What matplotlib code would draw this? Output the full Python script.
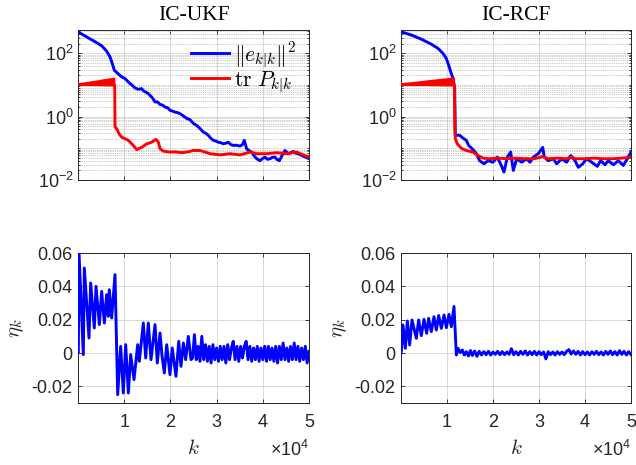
import numpy as np
import matplotlib
matplotlib.use('Agg')
import matplotlib.pyplot as plt
from matplotlib.ticker import FixedLocator, FixedFormatter, NullFormatter

plt.rcParams['font.family'] = ['Liberation Sans', 'DejaVu Sans']
plt.rcParams['mathtext.fontset'] = 'custom'
plt.rcParams['mathtext.rm'] = 'Liberation Sans'
plt.rcParams['mathtext.it'] = 'Liberation Sans:italic'
plt.rcParams['mathtext.bf'] = 'Liberation Sans:bold'

# ---------------- data ----------------
titles = ['IC-UKF', 'IC-RCF']
legend_labels = [r'$\|e_{k|k}\|^2$', r'$\mathrm{tr}\ P_{k|k}$']
x_ticks = [10000, 20000, 30000, 40000, 50000]
x_ticklabels = ['1', '2', '3', '4', '5']
x_exponent = '4'
log_ticks = [1e-2, 1e0, 1e2]
log_ticklabels = [r'$\mathrm{10^{-2}}$', r'$\mathrm{10^{0}}$', r'$\mathrm{10^{2}}$']
eta_ticks = [-0.02, 0.0, 0.02, 0.04, 0.06]
eta_ticklabels = ['-0.02', '0', '0.02', '0.04', '0.06']

# IC-UKF : squared error (blue)
ukf_err_k = [0, 2230, 3680, 5130, 6200, 6930, 7420, 7860, 8590, 9460, 10170, 10700, 11260,
             11800, 12340, 13050, 13780, 14100, 14500, 15000, 15580, 16100, 16670, 17200,
             17750, 18300, 18830, 19400, 19910, 20400, 21000, 21500, 22080, 22600, 23160,
             23700, 24240, 25000, 25690, 26400, 27120, 27600, 28200, 28700, 29290, 29800,
             30370, 30900, 31450, 32000, 32530, 33100, 33620, 34300, 35060, 35600, 36000,
             36510, 37000, 37590, 38100, 38680, 39390, 39900, 40480, 41000, 41560, 42100,
             42640, 43100, 43580, 44200, 44810, 45520, 46000, 46600, 47100, 47690, 48200,
             48770, 49400, 50000]
ukf_err_v = [468, 302, 229, 170, 115, 75.9, 46.8, 28.8, 22.9, 17.8, 15.8, 13.2, 11.0,
             9.5, 7.94, 7.24, 7.59, 6.6, 6.03, 5.6, 4.68, 3.9, 2.88, 2.9, 2.40, 2.3, 2.00,
             1.9, 1.58, 1.5, 1.38, 1.34, 1.23, 1.1, 0.955, 0.85, 0.80, 0.60, 0.525, 0.42,
             0.324, 0.30, 0.257, 0.21, 0.178, 0.17, 0.155, 0.15, 0.138, 0.145, 0.155, 0.13,
             0.123, 0.125, 0.117, 0.13, 0.178, 0.0955, 0.085, 0.0759, 0.058, 0.0468, 0.0407,
             0.047, 0.0525, 0.045, 0.0468, 0.052, 0.0525, 0.044, 0.0407, 0.06, 0.0851, 0.0676,
             0.072, 0.0794, 0.070, 0.0676, 0.062, 0.0562, 0.052, 0.0468]
# IC-UKF : trace of covariance (red)
ukf_band_k = [0, 2000, 4000, 6000, 7950]
ukf_band_hi = [11.7, 12.9, 14.3, 16.0, 17.8]
ukf_band_lo = [9.8, 9.7, 9.5, 9.4, 9.3]
ukf_tr_k = [0, 7950, 8010, 8370, 8870, 9460, 10890, 11970, 12700, 13780, 14870, 15950,
            16880, 17390, 17750, 18470, 19910, 20990, 22440, 23880, 24960, 26410, 28570,
            30740, 32900, 35060, 37230, 38680, 40840, 43000, 45170, 47330, 48770, 50000]
ukf_tr_v = [10.2, 10.0, 0.468, 0.417, 0.288, 0.224, 0.178, 0.123, 0.0912, 0.107, 0.138, 0.155,
            0.191, 0.155, 0.0977, 0.0813, 0.0759, 0.0776, 0.0724, 0.0776, 0.0851, 0.0851, 0.0676,
            0.0617, 0.0676, 0.0617, 0.0759, 0.0676, 0.0676, 0.0724, 0.0676, 0.0759, 0.0617, 0.0525]

# IC-RCF : squared error (blue)
rcf_err_k = [0, 2240, 4410, 6590, 8040, 9130, 9850, 10360, 10800, 11300, 11670, 11810,
             12760, 13480, 14200, 14710, 15650, 16370, 17100, 18040, 18910, 20000, 20930,
             21800, 22390, 23110, 23840, 24410, 25150, 26240, 27330, 28040, 28760, 29850,
             30800, 31160, 32020, 33110, 33850, 34930, 36020, 36880, 37830, 38550, 39490,
             40360, 41450, 42680, 43410, 44350, 45070, 46160, 47250, 48330, 49200, 50000]
rcf_err_v = [468, 372, 275, 191, 141, 97.7, 67.6, 41.7, 25.7, 15.8, 8.0, 0.257,
             0.257, 0.209, 0.178, 0.123, 0.0912, 0.0676, 0.0407, 0.0324, 0.0407, 0.0363, 0.0525,
             0.0288, 0.0178, 0.0525, 0.0759, 0.0200, 0.0468, 0.0363, 0.0468, 0.0363, 0.0525, 0.0676,
             0.107, 0.0525, 0.0407, 0.0468, 0.0324, 0.0468, 0.0363, 0.0589, 0.0407, 0.0251, 0.0324,
             0.0468, 0.0363, 0.0269, 0.0407, 0.0302, 0.0407, 0.0302, 0.0407, 0.0288, 0.0468, 0.0759]
# IC-RCF : trace of covariance (red)
rcf_band_k = [0, 3000, 6000, 9000, 11600]
rcf_band_hi = [11.7, 13.0, 14.6, 16.2, 17.8]
rcf_band_lo = [9.8, 9.7, 9.5, 9.4, 9.3]
rcf_tr_k = [0, 11600, 11700, 11810, 12250, 13120, 14200, 15650, 16740, 17830, 19000, 21000,
            23000, 25000, 27000, 29000, 30800, 32000, 34000, 36000, 36900, 38000, 40000,
            42000, 44000, 46000, 48000, 50000]
rcf_tr_v = [10.2, 10.0, 0.4, 0.200, 0.138, 0.100, 0.0851, 0.0759, 0.0589, 0.0490, 0.0468, 0.0490,
            0.0468, 0.0490, 0.0468, 0.0468, 0.0550, 0.0468, 0.0490, 0.0468, 0.0525, 0.0468, 0.0468,
            0.0490, 0.0468, 0.0468, 0.0490, 0.0525]

# IC-UKF : eta_k
ukf_eta_k = [0, 70, 220, 1150, 1370, 2380, 2740, 3530, 3900, 4620, 5120, 5700, 6200, 6550,
             6780, 7290, 8010, 8590, 9240, 9810, 10320, 10900, 11400, 12120, 12920, 13270,
             14140, 14650, 15220, 15800, 16670, 17170, 17750, 18200, 18690, 19200, 19910,
             20400, 21200, 21800, 22290, 22800, 23300, 23880, 24460,
             24800, 25200, 25600, 26000, 26400, 26800, 27200, 27600, 28000, 28400, 28800,
             29200, 29600, 30000, 30400, 30800, 31200, 31600, 32000, 32400, 32800, 33200,
             33600, 34000, 34400, 34800, 35200, 35600, 36000, 36400, 36800, 37200, 37600,
             38000, 38400, 38800, 39200, 39600, 40000, 40400, 40800, 41200, 41600, 42000,
             42400, 42800, 43200, 43600, 44000, 44400, 44800, 45200, 45600, 46000, 46400,
             46800, 47200, 47600, 48000, 48400, 48800, 49200, 49600, 50000]
ukf_eta_v = [0.0, 0.0, 0.060, -0.001, 0.051, 0.009, 0.042, 0.015, 0.040, 0.017, 0.037, 0.018,
             0.035, 0.022, 0.038, 0.021, 0.047, -0.025, 0.004, -0.024, 0.005, -0.024, -0.001,
             -0.016, 0.005, -0.005, 0.018, -0.003, 0.018, -0.004, 0.017, -0.006, 0.012, -0.002,
             -0.012, 0.005, -0.013, 0.003, -0.014, 0.007, -0.008, 0.006, -0.004, 0.010, -0.004,
             -0.003, 0.011, -0.004, 0.004, -0.005, 0.010, -0.004, 0.005, -0.005, 0.004, -0.006,
             0.005, -0.004, 0.003, -0.005, 0.004, -0.004, 0.004, -0.006, 0.005, -0.004, 0.003,
             0.007, -0.004, 0.004, -0.005, 0.004, -0.003, 0.004, 0.007, -0.004, 0.004, -0.005,
             0.003, -0.004, 0.004, -0.005, 0.003, -0.004, 0.004, -0.005, 0.004, -0.004, 0.003,
             -0.005, 0.004, -0.006, 0.004, -0.004, 0.006, -0.004, 0.003, -0.005, 0.004, -0.004,
             0.006, -0.004, 0.004, -0.005, 0.003, -0.004, 0.004, -0.006, 0.001]

# IC-RCF : eta_k
rcf_eta_k = [0, 70, 430, 940, 1380, 1880, 2390, 3330, 3840, 4420, 5000, 5580, 6010, 6590,
             7170, 7680, 8190, 8770, 9350, 9860, 10430, 10940, 11520, 12030, 12390, 12870,
             13330, 13770, 14200, 14650, 15100,
             15500, 16000, 16500, 17000, 17500, 18000, 18500, 19000, 19500, 20000, 20500,
             21000, 21500, 22000, 22500, 23000, 23500, 24000, 24500, 25000, 25500, 26000,
             26500, 27000, 27500, 28000, 28500, 29000, 29500, 30000, 30500, 31000, 31500,
             32000, 32500, 33000, 33500, 34000, 34500, 35000, 35500, 36000, 36500, 37000,
             37500, 38000, 38500, 39000, 39500, 40000, 40500, 41000, 41500, 42000, 42500,
             43000, 43500, 44000, 44500, 45000, 45500, 46000, 46500, 47000, 47500, 48000,
             48500, 49000, 49500, 50000]
rcf_eta_v = [0.0, 0.0008, 0.0168, 0.0028, 0.0192, 0.0048, 0.0198, 0.0088, 0.0198, 0.0104,
             0.0202, 0.0118, 0.0208, 0.0128, 0.0218, 0.0138, 0.0225, 0.0148, 0.0228, 0.0152,
             0.0232, 0.0158, 0.0279, -0.0012, 0.0028, 0.0003, 0.0018, -0.0012, 0.0008, -0.0018,
             0.0015,
             -0.0015, 0.0012, -0.0020, 0.0010, -0.0012, 0.0008, -0.0010, 0.0010, -0.0012, 0.0006,
             -0.0008, 0.0010, -0.0010, 0.0008, -0.0010, 0.0006, -0.0008, 0.0026, -0.0010, 0.0008,
             -0.0012, 0.0010, -0.0008, 0.0012, -0.0012, 0.0008, -0.0010, 0.0010, -0.0012, 0.0008,
             -0.0010, 0.0006, -0.0035, 0.0008, -0.0010, 0.0006, -0.0012, 0.0008, -0.0008, 0.0006,
             -0.0010, 0.0010, 0.0020, -0.0006, 0.0012, -0.0008, 0.0010, -0.0012, 0.0008, -0.0010,
             0.0006, -0.0012, 0.0008, -0.0008, 0.0010, -0.0010, 0.0006, -0.0012, 0.0010, -0.0008,
             0.0012, -0.0010, 0.0008, -0.0012, 0.0014, -0.0008, 0.0010, -0.0012, 0.0008, -0.0010]

# ---------------- styling ----------------
W, H = 636, 465
fig = plt.figure(figsize=(W / 100, H / 100), dpi=100)
edge = '#262626'
major_grid = '#d8d8d8'
minor_grid = '#b4b4b4'
tick_fs = 13
BLUE = (0, 0, 1)
RED = (1, 0, 0)
LW = 2.1

def px_rect(x0, y0, x1, y1):
    return [x0 / W, (H - y1) / H, (x1 - x0) / W, (y1 - y0) / H]

rects_top = [px_rect(78, 30, 309, 180), px_rect(401, 30, 631, 180)]
rects_bot = [px_rect(78, 253, 309, 403), px_rect(401, 253, 631, 403)]

def base_style(ax):
    for s in ax.spines.values():
        s.set_color(edge)
        s.set_linewidth(0.7)
    ax.tick_params(which='both', direction='in', top=True, right=True, colors=edge,
                   labelsize=tick_fs, width=0.6)
    ax.tick_params(which='major', length=3)
    ax.tick_params(which='minor', length=1.6)
    ax.set_xlim(0, 50000)
    ax.xaxis.set_major_locator(FixedLocator(x_ticks))
    ax.set_axisbelow(True)

minor_log = [m * 10.0 ** e for e in range(-2, 3) for m in range(1, 10)
             if not (m == 1 and e in (-2, 0, 2))]

top_data = [
    (ukf_err_k, ukf_err_v, ukf_band_k, ukf_band_lo, ukf_band_hi, ukf_tr_k, ukf_tr_v),
    (rcf_err_k, rcf_err_v, rcf_band_k, rcf_band_lo, rcf_band_hi, rcf_tr_k, rcf_tr_v),
]
for i, (ek, ev, bk, blo, bhi, tk, tv) in enumerate(top_data):
    ax = fig.add_axes(rects_top[i])
    ax.set_yscale('log')
    base_style(ax)
    ax.set_ylim(1e-2, 535)
    ax.yaxis.set_major_locator(FixedLocator(log_ticks))
    ax.yaxis.set_major_formatter(FixedFormatter(log_ticklabels))
    ax.yaxis.set_minor_locator(FixedLocator(minor_log))
    ax.yaxis.set_minor_formatter(NullFormatter())
    ax.xaxis.set_major_formatter(NullFormatter())
    ax.tick_params(axis='y', pad=3)
    ax.grid(which='major', color=major_grid, lw=0.7, ls='-')
    ax.grid(which='minor', axis='y', color=minor_grid, lw=0.6, ls=(0, (1, 1.2)))
    l1, = ax.plot(ek, ev, color=BLUE, lw=LW, zorder=3)
    ax.fill_between(bk, blo, bhi, color=RED, lw=0, zorder=4)
    l2, = ax.plot(tk, tv, color=RED, lw=LW, zorder=4)
    ax.set_title(titles[i], fontsize=15.5, family='Liberation Serif', color='black', pad=7)
    if i == 0:
        leg = ax.legend([l1, l2], legend_labels, loc='upper left',
                        bbox_to_anchor=(0.49, 0.93), frameon=False, fontsize=15.5,
                        handlelength=1.75, handletextpad=0.25, labelspacing=0.0,
                        borderpad=0, borderaxespad=0)
        for t in leg.get_texts():
            t.set_math_fontfamily('cm')

bot_data = [(ukf_eta_k, ukf_eta_v), (rcf_eta_k, rcf_eta_v)]
for i, (k, v) in enumerate(bot_data):
    ax = fig.add_axes(rects_bot[i])
    base_style(ax)
    ax.set_ylim(-0.03, 0.06)
    ax.yaxis.set_major_locator(FixedLocator(eta_ticks))
    ax.yaxis.set_major_formatter(FixedFormatter(eta_ticklabels))
    ax.xaxis.set_major_formatter(FixedFormatter(x_ticklabels))
    ax.tick_params(axis='x', pad=8)
    ax.tick_params(axis='y', pad=4)
    ax.grid(which='major', color=major_grid, lw=0.7, ls='-')
    ax.plot(k, v, color=BLUE, lw=LW, zorder=3)
    xl = ax.set_xlabel(r'$k$', fontsize=15, labelpad=6, color=edge)
    xl.set_math_fontfamily('cm')
    yl = ax.set_ylabel(r'$\eta_k$', fontsize=15, labelpad=4, color=edge)
    yl.set_math_fontfamily('cm')
    ax.text(1.0, -0.355, '×' + r'$\mathrm{10^{' + x_exponent + '}}$', transform=ax.transAxes,
            ha='right', va='baseline', fontsize=tick_fs, color=edge)

fig.savefig('out.png', dpi=100, facecolor='white')
